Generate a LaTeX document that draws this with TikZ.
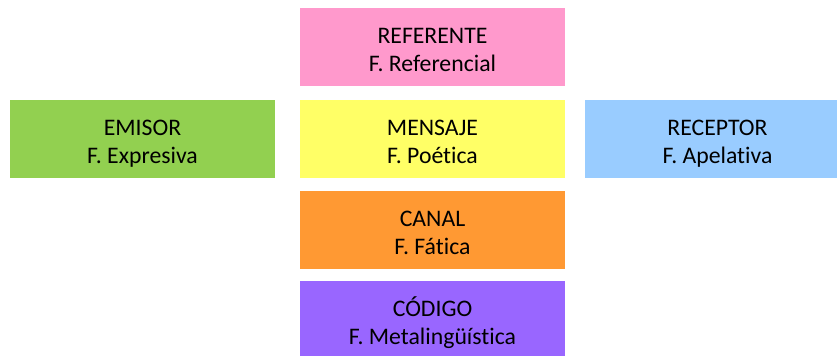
\documentclass[tikz,border=0pt]{standalone}
\usepackage{fontspec}
\setmainfont[Ligatures={NoCommon}]{Carlito}
\usepackage{tikz}

\definecolor{rosa}{HTML}{FF99CC}
\definecolor{verde}{HTML}{92D050}
\definecolor{amarillo}{HTML}{FFFF66}
\definecolor{celeste}{HTML}{99CCFF}
\definecolor{naranja}{HTML}{FF9933}
\definecolor{morado}{HTML}{9966FF}

\tikzset{funcion/.style={rectangle, inner sep=0pt, minimum width=198.75pt,
  minimum height=58.5pt, align=center,
  font=\fontsize{17.8}{21.3}\selectfont}}

\begin{document}
\begin{tikzpicture}[x=0.75pt, y=-0.75pt]
\useasboundingbox (0,0) rectangle (837,356);

\node[funcion, fill=rosa] (referente) at (432.5, 47.0) {\rule{0pt}{20pt}REFERENTE\\F. Referencial\rule[-4pt]{0pt}{0pt}};
\node[funcion, fill=verde] (emisor) at (142.5, 139.0) {\rule{0pt}{20pt}EMISOR\\F. Expresiva\rule[-4pt]{0pt}{0pt}};
\node[funcion, fill=amarillo] (mensaje) at (432.5, 139.0) {\rule{0pt}{20pt}MENSAJE\\F. Poética\rule[-4pt]{0pt}{0pt}};
\node[funcion, fill=celeste] (receptor) at (717.5, 139.0) {\rule{0pt}{20pt}RECEPTOR\\F. Apelativa\rule[-4pt]{0pt}{0pt}};
\node[funcion, fill=naranja] (canal) at (432.5, 230.0) {\rule{0pt}{20pt}CANAL\\F. Fática\rule[-4pt]{0pt}{0pt}};
\node[funcion, fill=morado] (codigo) at (432.5, 320.0) {\rule{0pt}{20pt}CÓDIGO\\F. Metalingüística\rule[-4pt]{0pt}{0pt}};
\end{tikzpicture}
\end{document}
